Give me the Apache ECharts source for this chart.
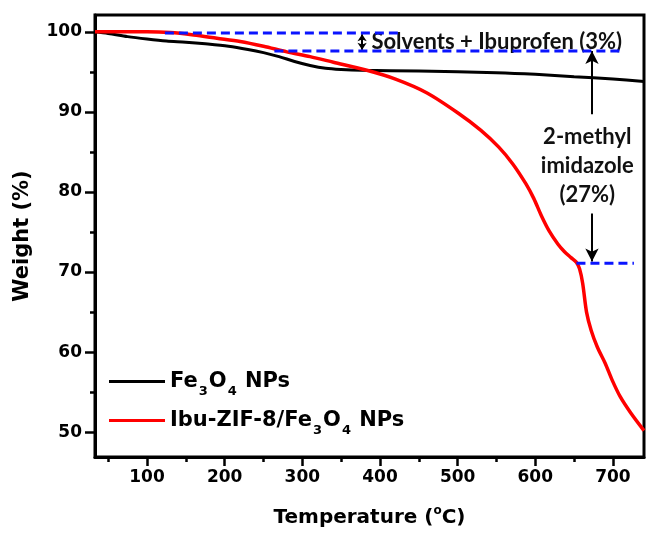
<!DOCTYPE html>
<html>
<head>
<meta charset="utf-8">
<script src="https://cdn.jsdelivr.net/npm/echarts@6/dist/echarts.min.js"></script>
<style>
  html, body { margin: 0; padding: 0; background: #fff; }
  #chart { width: 646px; height: 533px; }
</style>
</head>
<body>
<div id="chart"></div>
<script>
// TGA curves
const tempFe = [33, 50, 75, 100, 125, 150, 175, 205, 230, 250, 270, 290, 310, 330, 350, 376, 450, 550, 600, 650, 700, 740]
const weightFe = [100, 99.8, 99.4, 99.1, 98.85, 98.7, 98.5, 98.2, 97.8, 97.4, 96.9, 96.3, 95.8, 95.45, 95.3, 95.2, 95.1, 94.9, 94.7, 94.4, 94.1, 93.8]

const tempIbu = [33, 100, 130, 160, 190, 220, 250, 280, 310, 340, 383, 420, 460, 500, 530, 553, 571, 588, 598, 608, 618, 629, 637, 646, 653, 657, 661, 666, 672, 680, 690, 699, 709, 723, 740]
const weightIbu = [100, 100, 99.9, 99.6, 99.2, 98.8, 98.2, 97.5, 96.9, 96.2, 95.2, 94.1, 92.4, 89.9, 87.7, 85.6, 83.5, 81.0, 79.2, 77.0, 75.1, 73.5, 72.6, 71.8, 71.2, 70.4, 68.6, 65.0, 62.7, 60.6, 58.6, 56.5, 54.5, 52.4, 50.2]

// dashed guide lines [x, y]
const guideTop = [[123, 99.85], [423, 99.85]]
const guideMid = [[264, 97.6], [712, 97.6]]
const guideLow = [[653, 71.1], [727, 71.1]]

// arrows [from, to]
const arrowSolvent = [[377, 99.7], [377, 97.75]]
const arrowUp = [[673, 89.7], [673, 97.6]]
const arrowDown = [[673, 77.3], [673, 71.3]]

const xMajor = [100, 200, 300, 400, 500, 600, 700]
const xMinor = [50, 150, 250, 350, 450, 550, 650]
const yMajor = [50, 60, 70, 80, 90, 100]
const yMinor = [55, 65, 75, 85, 95]

const seriesNames = ['Fe3O4 NPs', 'Ibu-ZIF-8/Fe3O4 NPs']

const FONT = 'DejaVu Sans'
const NOTE_FONT = 'Lato'

const zip = (xs, ys) => xs.map((x, i) => [x, ys[i]])

function legendLabel(name) {
  return name
    .replace('Fe3O4', '{m|Fe}{s|3}{m|O}{s|4}')
    .replace(/^([^{]+)\{/, '{m|$1}{')
    .replace(/\}([^{}]+)$/, '}{m|$1}')
}

const chart = echarts.init(document.getElementById('chart'))

function dashed(data) {
  return {
    type: 'line',
    data,
    symbol: 'none',
    silent: true,
    z: 5,
    lineStyle: { color: '#0a14ff', width: 3, type: [9, 5] },
  }
}

function arrow(pair, both) {
  return {
    type: 'line',
    data: [],
    silent: true,
    markLine: {
      silent: true,
      symbol: both ? ['arrow', 'arrow'] : ['none', 'arrow'],
      symbolSize: both ? [7, 7] : [10, 13],
      label: { show: false },
      lineStyle: { color: '#000', width: 2, type: 'solid' },
      data: [[{ coord: pair[0] }, { coord: pair[1] }]],
    },
  }
}

chart.setOption({
  animation: false,
  grid: {
    left: 95, right: 2, top: 15, bottom: 72,
    show: true, borderColor: '#000', borderWidth: 3,
  },
  legend: {
    data: seriesNames,
    orient: 'vertical',
    left: 104,
    top: 366,
    icon: 'rect',
    itemWidth: 56,
    itemHeight: 3,
    itemGap: 12,
    formatter: legendLabel,
    textStyle: {
      rich: {
        m: { fontFamily: FONT, fontWeight: 'bold', fontSize: 21, color: '#000' },
        s: { fontFamily: FONT, fontWeight: 'bold', fontSize: 13, color: '#000', padding: [20, 1, 0, 1] },
      },
    },
  },
  xAxis: [
    {
      type: 'value',
      min: 33,
      max: 740,
      name: 'Temperature ({sup|o}C)',
      nameLocation: 'middle',
      nameGap: 48,
      nameTextStyle: {
        fontFamily: FONT, fontWeight: 'bold', fontSize: 20, color: '#000',
        rich: {
          sup: { fontFamily: FONT, fontWeight: 'bold', fontSize: 12, color: '#000', padding: [0, 0, 14, 0] },
        },
      },
      axisLine: { lineStyle: { color: '#000', width: 3 } },
      axisTick: { customValues: xMajor, length: 9, lineStyle: { width: 2.5, color: '#000' } },
      axisLabel: {
        customValues: xMajor, margin: 12,
        fontFamily: FONT, fontWeight: 'bold', fontSize: 17, color: '#000',
      },
      splitLine: { show: false },
    },
    {
      type: 'value',
      position: 'bottom',
      min: 33,
      max: 740,
      axisLine: { show: false },
      axisTick: { customValues: xMinor, length: 5, lineStyle: { width: 2.5, color: '#000' } },
      axisLabel: { show: false },
      splitLine: { show: false },
    },
  ],
  yAxis: [
    {
      type: 'value',
      min: 46.9,
      max: 102.1,
      name: 'Weight (%)',
      nameLocation: 'middle',
      nameGap: 62,
      nameTextStyle: { fontFamily: FONT, fontWeight: 'bold', fontSize: 21, color: '#000' },
      axisLine: { lineStyle: { color: '#000', width: 3 } },
      axisTick: { customValues: yMajor, length: 10, lineStyle: { width: 2.5, color: '#000' } },
      axisLabel: {
        customValues: yMajor, margin: 13,
        fontFamily: FONT, fontWeight: 'bold', fontSize: 17, color: '#000',
      },
      splitLine: { show: false },
    },
    {
      type: 'value',
      position: 'left',
      min: 46.9,
      max: 102.1,
      axisLine: { show: false },
      axisTick: { customValues: yMinor, length: 5, lineStyle: { width: 2.5, color: '#000' } },
      axisLabel: { show: false },
      splitLine: { show: false },
    },
  ],
  series: [
    {
      name: seriesNames[0],
      type: 'line',
      data: zip(tempFe, weightFe),
      symbol: 'none',
      smooth: 0.3,
      color: '#000',
      lineStyle: { color: '#000', width: 3 },
      z: 3,
    },
    {
      name: seriesNames[1],
      type: 'line',
      data: zip(tempIbu, weightIbu),
      symbol: 'none',
      smooth: 0.3,
      color: '#ff0000',
      lineStyle: { color: '#ff0000', width: 3.5 },
      z: 4,
    },
    dashed(guideTop),
    dashed(guideMid),
    dashed(guideLow),
    arrow(arrowSolvent, true),
    arrow(arrowUp, false),
    arrow(arrowDown, false),
    {
      type: 'scatter',
      data: [],
      silent: true,
      markPoint: {
        silent: true,
        symbol: 'circle',
        symbolSize: 0,
        data: [
          {
            coord: [389, 98.8],
            label: {
              show: true, position: 'right', distance: 0,
              formatter: 'Solvents + Ibuprofen (3%)',
              fontFamily: NOTE_FONT, fontWeight: 'bold', fontSize: 22, color: '#111',
            },
          },
          {
            coord: [667, 83.3],
            label: {
              show: true, position: 'inside',
              formatter: '2-methyl\nimidazole\n(27%)',
              align: 'center', lineHeight: 29,
              fontFamily: NOTE_FONT, fontWeight: 'bold', fontSize: 22, color: '#111',
            },
          },
        ],
      },
    },
  ],
})
</script>
</body>
</html>
